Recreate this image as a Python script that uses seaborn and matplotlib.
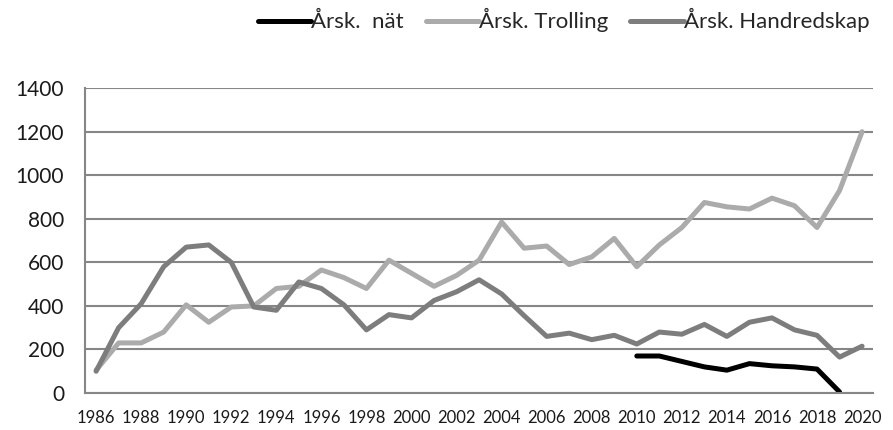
import numpy as np
import pandas as pd
import matplotlib
matplotlib.use("Agg")
import matplotlib.pyplot as plt
import seaborn as sns
from matplotlib.ticker import MultipleLocator

# ------------------------------------------------------------------
#  Data
# ------------------------------------------------------------------
years = list(range(1986, 2021))

trolling = [105, 230, 230, 280, 405, 325, 395, 400, 480, 490,
            565, 530, 480, 610, 550, 490, 540, 610, 785, 665,
            675, 590, 625, 710, 580, 680, 760, 875, 855, 845,
            895, 860, 760, 930, 1200]

handredskap = [100, 300, 410, 580, 670, 680, 600, 395, 380, 510,
               480, 405, 290, 360, 345, 425, 465, 520, 455, 355,
               260, 275, 245, 265, 225, 280, 270, 315, 260, 325,
               345, 290, 265, 165, 215]

nat_years = list(range(2010, 2020))
nat = [170, 170, 145, 120, 105, 135, 125, 120, 110, 5]

labels = ["Årsk.  nät", "Årsk. Trolling", "Årsk. Handredskap"]
colors = ["#000000", "#ababab", "#7d7d7d"]

df = pd.concat([
    pd.DataFrame({"year": nat_years, "value": nat, "series": labels[0]}),
    pd.DataFrame({"year": years, "value": trolling, "series": labels[1]}),
    pd.DataFrame({"year": years, "value": handredskap, "series": labels[2]}),
])

# ------------------------------------------------------------------
#  Plot
# ------------------------------------------------------------------
sns.set_style("white")
plt.rcParams["font.family"] = ["Lato", "DejaVu Sans"]

fig = plt.figure(figsize=(8.93, 4.30), dpi=100)
ax = fig.add_axes([0.095, 0.086, 0.883, 0.709])

sns.lineplot(data=df, x="year", y="value", hue="series",
             hue_order=labels, palette=colors, linewidth=3.6,
             ax=ax, legend=False, sort=True)

ax.set_xlim(1985.5, 2020.5)
ax.set_ylim(0, 1400)
ax.yaxis.set_major_locator(MultipleLocator(200))
ax.set_xticks(range(1986, 2021, 2))
ax.xaxis.set_minor_locator(MultipleLocator(1, offset=0.5))
ax.tick_params(axis="x", which="major", length=0, labelsize=12,
               pad=12, colors="#1a1a1a")
ax.tick_params(axis="x", which="minor", length=4, width=1.5,
               color="#868686", direction="out")
ax.tick_params(axis="y", which="major", length=5, width=1.5,
               color="#868686", labelsize=15, pad=10, labelcolor="#1a1a1a")
ax.set_xlabel("")
ax.set_ylabel("")

ax.grid(axis="y", color="#868686", linewidth=1.5)
ax.set_axisbelow(True)
for side in ["top", "right"]:
    ax.spines[side].set_visible(False)
for side in ["left", "bottom"]:
    ax.spines[side].set_color("#868686")
    ax.spines[side].set_linewidth(1.5)

handles = [plt.Line2D([], [], color=c, linewidth=3.6) for c in colors]
fig.legend(handles, labels, loc="center", bbox_to_anchor=(0.631, 0.953),
           ncol=3, frameon=False, fontsize=16, handlelength=2.4,
           handletextpad=0.0, columnspacing=1.0)

fig.savefig("out.png", dpi=100)
